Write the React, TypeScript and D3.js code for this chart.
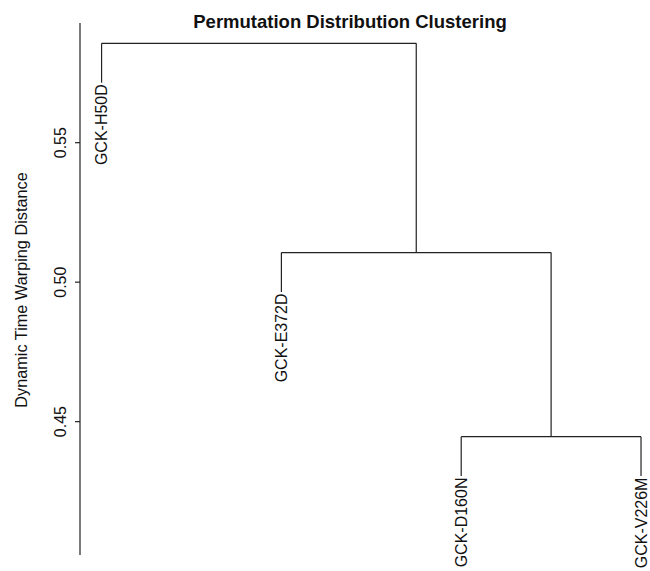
import React from "react";
import * as d3 from "d3";

const title = "Permutation Distribution Clustering";
const yLabel = "Dynamic Time Warping Distance";
const leafLabels = ["GCK-H50D", "GCK-E372D", "GCK-D160N", "GCK-V226M"];
// R-style merge matrix: negative = leaf (1-based), positive = earlier merge
const mergeA = [-3, -2, -1];
const mergeB = [-4, 1, 2];
const mergeHeights = [0.4446, 0.5106, 0.5856];
const hang = 0.1;
const yTicks = [0.45, 0.5, 0.55];
const yDomain = [0.4022, 0.5929];
const xDomain = [0.88, 4.12];

const W = 650;
const H = 571;
const FONT = "'Liberation Sans', Arial, Helvetica, sans-serif";

export default function App() {
  const x = d3.scaleLinear().domain(xDomain).range([80, 662.6]);
  const y = d3.scaleLinear().domain(yDomain).range([555, 23]);

  const hangAmt = hang * (d3.max(mergeHeights)! - d3.min(mergeHeights)!);
  const leafPos = leafLabels.map((_, i) => i + 1);
  const mergeX: number[] = [];
  const nodeX = (id: number) => (id < 0 ? leafPos[-id - 1] : mergeX[id - 1]);
  mergeA.forEach((a, i) => {
    mergeX.push((nodeX(a) + nodeX(mergeB[i])) / 2);
  });

  const segs: { x1: number; y1: number; x2: number; y2: number }[] = [];
  const leafTips: { label: string; xv: number; yv: number }[] = [];
  mergeA.forEach((a, i) => {
    const b = mergeB[i];
    const h = mergeHeights[i];
    [a, b].forEach((c) => {
      const cx = nodeX(c);
      let ch: number;
      if (c < 0) {
        ch = h - hangAmt;
        leafTips.push({ label: leafLabels[-c - 1], xv: cx, yv: ch });
      } else {
        ch = mergeHeights[c - 1];
      }
      segs.push({ x1: x(cx), y1: y(h), x2: x(cx), y2: y(ch) });
    });
    segs.push({ x1: x(nodeX(a)), y1: y(h), x2: x(nodeX(b)), y2: y(h) });
  });

  return (
    <svg width={W} height={H} style={{ display: "block", position: "absolute", left: 0, top: 0, background: "#fff" }}>
      <rect x={0} y={0} width={W} height={H} fill="#fff" />
      <text x={350} y={28} textAnchor="middle" fontFamily={FONT} fontWeight="bold" fontSize={18.5} fill="#111">
        {title}
      </text>
      <line x1={80} x2={80} y1={y(yDomain[1])} y2={y(yDomain[0])} stroke="#222" strokeWidth={1.2} />
      {yTicks.map((t) => (
        <g key={t}>
          <line x1={75} x2={80} y1={y(t)} y2={y(t)} stroke="#222" strokeWidth={1.2} />
          <text
            transform={`translate(66,${y(t)}) rotate(-90)`}
            textAnchor="middle"
            fontFamily={FONT}
            fontSize={16}
            fill="#111"
          >
            {d3.format(".2f")(t)}
          </text>
        </g>
      ))}
      <text
        transform={`translate(27,290) rotate(-90)`}
        textAnchor="middle"
        fontFamily={FONT}
        fontSize={16.3}
        fill="#111"
      >
        {yLabel}
      </text>
      {segs.map((s, i) => (
        <line key={i} x1={s.x1} y1={s.y1} x2={s.x2} y2={s.y2} stroke="#222" strokeWidth={1.2} />
      ))}
      {leafTips.map((l) => (
        <text
          key={l.label}
          transform={`translate(${x(l.xv)},${y(l.yv) + 1.5}) rotate(-90)`}
          textAnchor="end"
          dy="0.35em"
          fontFamily={FONT}
          fontSize={16}
          fill="#111"
        >
          {l.label}
        </text>
      ))}
    </svg>
  );
}
